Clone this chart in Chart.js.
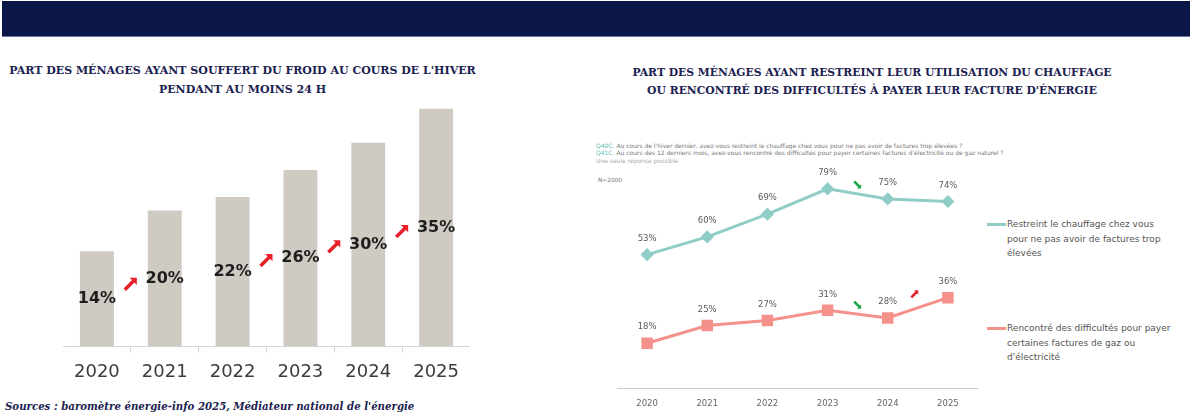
<!DOCTYPE html>
<html>
<head>
<meta charset="utf-8">
<script src="https://cdn.jsdelivr.net/npm/chart.js@4.4.1/dist/chart.umd.min.js"></script>
<style>
  html, body { margin:0; padding:0; width:1190px; height:416px; overflow:hidden; background:#fff; }
  .abs { position:absolute; }
  #header { left:2px; top:1px; width:1188px; height:35px; background:#0b1749; border-bottom:1px solid #6a76a0; }
  .title { font-family:"DejaVu Serif", serif; font-weight:bold; font-size:11px; color:#1b2251; text-align:center; line-height:19px; white-space:nowrap; }
  #src { left:5px; top:400px; font-family:"DejaVu Serif", serif; font-weight:bold; font-style:italic; font-size:10.2px; color:#1b2251; white-space:nowrap; }
  #qs { left:596px; top:142px; font-family:"DejaVu Sans", sans-serif; font-size:6px; line-height:7.3px; color:#777; white-space:nowrap; }
  #qs .q { color:#5fbab0; }
  #qs .l3 { color:#aaa; }
  #n { left:598px; top:177px; font-family:"DejaVu Sans", sans-serif; font-size:5.8px; color:#777; }
  .leg { font-family:"DejaVu Sans", sans-serif; font-size:9px; color:#555; line-height:14.5px; white-space:nowrap; }
  .legline { width:19px; height:2.5px; }
</style>
</head>
<body>
<div id="header" class="abs"></div>
<div class="abs title" style="left:0; width:485px; top:61px;">PART DES MÉNAGES AYANT SOUFFERT DU FROID AU COURS DE L'HIVER<br>PENDANT AU MOINS 24 H</div>
<div class="abs title" style="left:600px; width:544px; top:64px; font-size:10.8px; line-height:17.5px;">PART DES MÉNAGES AYANT RESTREINT LEUR UTILISATION DU CHAUFFAGE<br>OU RENCONTRÉ DES DIFFICULTÉS À PAYER LEUR FACTURE D'ÉNERGIE</div>
<div id="qs" class="abs"><span class="q">Q40C.</span> Au cours de l'hiver dernier, avez-vous restreint le chauffage chez vous pour ne pas avoir de factures trop élevées ?<br><span class="q">Q41C.</span> Au cours des 12 derniers mois, avez-vous rencontré des difficultés pour payer certaines factures d'électricité ou de gaz naturel ?<br><span class="l3">Une seule réponse possible</span></div>
<div id="n" class="abs">N=2000</div>

<div class="abs" style="left:63px; top:102px; width:407px; height:290px;"><canvas id="c1"></canvas></div>
<div class="abs" style="left:617px; top:161px; width:361px; height:258px;"><canvas id="c2"></canvas></div>

<div class="abs legline" style="left:987px; top:223px; background:#8fcdc6;"></div>
<div class="abs leg" style="left:1007px; top:217px;">Restreint le chauffage chez vous<br>pour ne pas avoir de factures trop<br>élevées</div>
<div class="abs legline" style="left:987px; top:327px; background:#f4918b;"></div>
<div class="abs leg" style="left:1007px; top:321px;">Rencontré des difficultés pour payer<br>certaines factures de gaz ou<br>d'électricité</div>

<div id="src" class="abs">Sources : baromètre énergie-info 2025, Médiateur national de l'énergie</div>

<script>
// ---- Data ----
const years = ['2020', '2021', '2022', '2023', '2024', '2025'];
const coldShare = [14, 20, 22, 26, 30, 35];
const coldTrend = ['up', null, 'up', 'up', 'up'];
const restrictHeating = [53, 60, 69, 79, 75, 74];
const paymentDifficulty = [18, 25, 27, 31, 28, 36];
const restrictTrend = [null, null, null, 'down', null];
const difficultyTrend = [null, null, null, 'down', 'up'];
const restrictLabel = 'Restreint le chauffage chez vous pour ne pas avoir de factures trop élevées';
const difficultyLabel = 'Rencontré des difficultés pour payer certaines factures de gaz ou d\'électricité';

function drawArrow(ctx, cx, cy, s, dir, color, lw) {
  const sign = dir === 'up' ? -1 : 1;
  const x0 = cx - s / 2, y0 = cy - sign * s / 2;
  const x1 = cx + s / 2, y1 = cy + sign * s / 2;
  const h = s * 0.6;
  ctx.save();
  ctx.strokeStyle = color; ctx.fillStyle = color; ctx.lineWidth = lw; ctx.lineCap = 'butt';
  ctx.beginPath(); ctx.moveTo(x0, y0); ctx.lineTo(x1 - h * 0.4, y1 - sign * h * 0.4); ctx.stroke();
  ctx.beginPath(); ctx.moveTo(x1, y1); ctx.lineTo(x1 - h, y1); ctx.lineTo(x1, y1 - sign * h); ctx.closePath(); ctx.fill();
  ctx.restore();
}

const barLabels = {
  id: 'barLabels',
  afterDatasetsDraw(chart) {
    const ctx = chart.ctx;
    const meta = chart.getDatasetMeta(0);
    const centers = meta.data.map(el => ({ x: el.x, y: (el.y + el.base) / 2 }));
    ctx.save();
    ctx.font = 'bold 16px "DejaVu Sans"';
    ctx.fillStyle = '#1e1e1e';
    ctx.textAlign = 'center'; ctx.textBaseline = 'middle';
    centers.forEach((c, i) => ctx.fillText(coldShare[i] + '%', c.x, c.y));
    ctx.restore();
    coldTrend.forEach((t, i) => {
      if (!t) return;
      const a = centers[i], b = centers[i + 1];
      drawArrow(ctx, (a.x + b.x) / 2, (a.y + b.y) / 2 - 5, 12, t, '#e8202a', 3.5);
    });
  }
};

new Chart(document.getElementById('c1'), {
  type: 'bar',
  data: { labels: years, datasets: [{ data: coldShare, backgroundColor: '#cfcbc3', barPercentage: 0.5, categoryPercentage: 1.0 }] },
  options: {
    responsive: true, maintainAspectRatio: false, animation: false,
    plugins: { legend: { display: false }, tooltip: { enabled: false } },
    layout: { padding: 0, autoPadding: false },
    scales: {
      x: {
        grid: { display: true, drawOnChartArea: false, drawTicks: true, tickLength: 6, color: '#d6d6d6' },
        border: { display: true, color: '#d6d6d6' },
        ticks: { font: { family: 'DejaVu Sans', size: 18 }, color: '#3c3c3c', padding: 9 }
      },
      y: { display: false, min: 0, max: 36 }
    }
  },
  plugins: [barLabels]
});

const lineLabels = {
  id: 'lineLabels',
  afterDatasetsDraw(chart) {
    const ctx = chart.ctx;
    const sets = [[restrictHeating, restrictTrend], [paymentDifficulty, difficultyTrend]];
    sets.forEach(([vals, trend], di) => {
      const pts = chart.getDatasetMeta(di).data;
      ctx.save();
      ctx.font = '8.5px "DejaVu Sans"';
      ctx.fillStyle = '#5a5a5a';
      ctx.textAlign = 'center'; ctx.textBaseline = 'middle';
      pts.forEach((p, i) => ctx.fillText(vals[i] + '%', p.x, p.y - 16));
      ctx.restore();
      trend.forEach((t, i) => {
        if (!t) return;
        const a = pts[i], b = pts[i + 1];
        const color = t === 'up' ? '#e8202a' : '#1aa84a';
        drawArrow(ctx, (a.x + b.x) / 2 - (t === 'up' ? 3 : 0), (a.y + b.y) / 2 - (t === 'up' ? 14 : 9), 7, t, color, 2.6);
      });
    });
  }
};

new Chart(document.getElementById('c2'), {
  type: 'line',
  data: {
    labels: years,
    datasets: [
      { label: restrictLabel, data: restrictHeating, borderColor: '#8fcdc6', backgroundColor: '#8fcdc6', borderWidth: 3, pointStyle: 'rectRot', pointRadius: 4.5, tension: 0 },
      { label: difficultyLabel, data: paymentDifficulty, borderColor: '#f4918b', backgroundColor: '#f4918b', borderWidth: 3, pointStyle: 'rect', pointRadius: 6, tension: 0 }
    ]
  },
  options: {
    responsive: true, maintainAspectRatio: false, animation: false,
    plugins: { legend: { display: false }, tooltip: { enabled: false } },
    layout: { padding: 0, autoPadding: false },
    scales: {
      x: {
        offset: true,
        grid: { display: true, drawOnChartArea: false, drawTicks: false },
        border: { display: true, color: '#c8c8c8' },
        ticks: { font: { family: 'DejaVu Sans', size: 8.5 }, color: '#666', padding: 10 }
      },
      y: { display: false, min: 0, max: 90 }
    }
  },
  plugins: [lineLabels]
});
</script>
</body>
</html>
